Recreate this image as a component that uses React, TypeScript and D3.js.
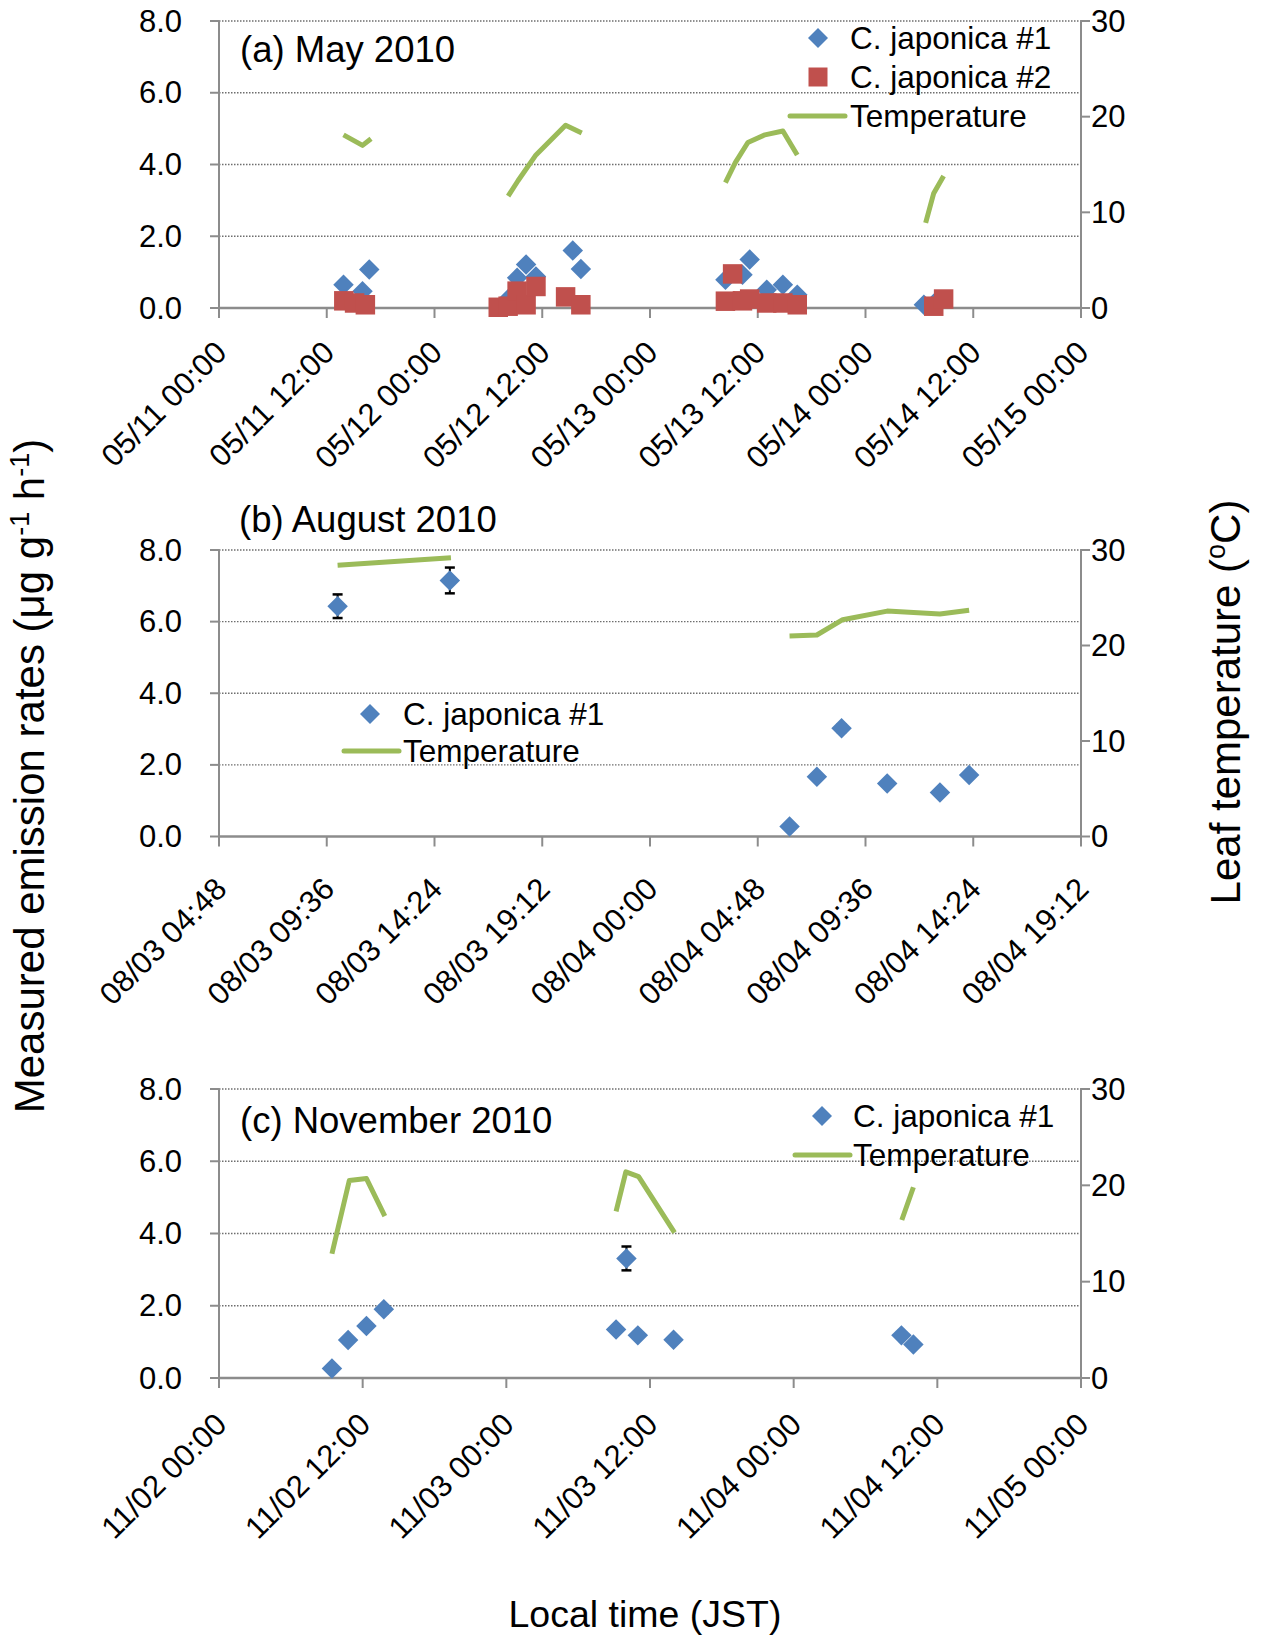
import React, { useEffect, useRef } from 'react'
import * as d3 from 'd3'

// panel (a) May 2010
const mayTicks = ['05/11 00:00', '05/11 12:00', '05/12 00:00', '05/12 12:00', '05/13 00:00', '05/13 12:00', '05/14 00:00', '05/14 12:00', '05/15 00:00']
const mayJap1Time = ['05/11 13:52', '05/11 15:59', '05/11 16:44', '05/12 08:24', '05/12 09:12', '05/12 10:12', '05/12 11:18', '05/12 15:24', '05/12 16:18', '05/13 08:24', '05/13 10:18', '05/13 11:06', '05/13 13:00', '05/13 14:48', '05/13 16:24', '05/14 06:30', '05/14 07:36']
const mayJap1Rate = [0.65, 0.47, 1.07, 0.3, 0.84, 1.21, 0.88, 1.6, 1.09, 0.79, 0.93, 1.35, 0.51, 0.65, 0.37, 0.09, 0.12]
const mayJap1Err = [0, 0, 0, 0, 0, 0, 0, 0.08, 0.04, 0, 0, 0, 0, 0, 0, 0, 0]
const mayJap2Time = ['05/11 13:54', '05/11 15:06', '05/11 16:18', '05/12 07:06', '05/12 08:12', '05/12 09:12', '05/12 10:12', '05/12 11:18', '05/12 14:36', '05/12 16:18', '05/13 08:24', '05/13 09:12', '05/13 10:18', '05/13 11:06', '05/13 13:00', '05/13 14:48', '05/13 16:24', '05/14 07:36', '05/14 08:42']
const mayJap2Rate = [0.2, 0.14, 0.09, 0.02, 0.05, 0.47, 0.09, 0.6, 0.31, 0.09, 0.19, 0.95, 0.2, 0.25, 0.14, 0.14, 0.09, 0.05, 0.25]
const mayTempTime = ['05/11 13:52', '05/11 15:59', '05/11 16:56', '', '05/12 08:12', '05/12 09:18', '05/12 11:18', '05/12 14:36', '05/12 16:24', '', '05/13 08:24', '05/13 09:30', '05/13 10:54', '05/13 12:48', '05/13 14:48', '05/13 16:24', '', '05/14 06:42', '05/14 07:36', '05/14 08:42']
const mayTemp = [18.1, 17.0, 17.7, null, 11.7, 13.3, 16.0, 19.1, 18.3, null, 13.1, 15.2, 17.3, 18.1, 18.5, 16.0, null, 8.9, 12.0, 13.8]

// panel (b) August 2010
const augTicks = ['08/03 04:48', '08/03 09:36', '08/03 14:24', '08/03 19:12', '08/04 00:00', '08/04 04:48', '08/04 09:36', '08/04 14:24', '08/04 19:12']
const augJap1Time = ['08/03 10:05', '08/03 15:05', '08/04 06:13', '08/04 07:26', '08/04 08:32', '08/04 10:34', '08/04 12:55', '08/04 14:13']
const augJap1Rate = [6.43, 7.15, 0.28, 1.67, 3.02, 1.48, 1.23, 1.72]
const augJap1Err = [0.33, 0.36, 0, 0, 0.1, 0, 0, 0]
const augTempTime = ['08/03 10:05', '08/03 15:08', '', '08/04 06:13', '08/04 07:26', '08/04 08:35', '08/04 10:34', '08/04 12:55', '08/04 14:13']
const augTemp = [28.4, 29.2, null, 21.0, 21.1, 22.7, 23.6, 23.3, 23.7]

// panel (c) November 2010
const novTicks = ['11/02 00:00', '11/02 12:00', '11/03 00:00', '11/03 12:00', '11/04 00:00', '11/04 12:00', '11/05 00:00']
const novJap1Time = ['11/02 09:26', '11/02 10:47', '11/02 12:19', '11/02 13:46', '11/03 09:10', '11/03 10:02', '11/03 10:59', '11/03 13:58', '11/04 09:00', '11/04 10:00']
const novJap1Rate = [0.26, 1.05, 1.44, 1.9, 1.34, 3.31, 1.18, 1.06, 1.18, 0.93]
const novJap1Err = [0, 0, 0.08, 0.1, 0, 0.33, 0, 0, 0, 0]
const novTempTime = ['11/02 09:26', '11/02 10:53', '11/02 12:19', '11/02 13:51', '', '11/03 09:10', '11/03 09:59', '11/03 11:03', '11/03 14:03', '', '11/04 09:02', '11/04 10:00']
const novTemp = [12.9, 20.5, 20.7, 16.8, null, 17.3, 21.4, 20.9, 15.1, null, 16.4, 19.8]

const rateTicks = [0, 2, 4, 6, 8]
const tempTicks = [0, 10, 20, 30]

const BLUE = '#4F81BD'
const RED = '#C0504D'
const GREEN = '#9BBB59'
const AXIS = '#8c8c8c'
const FONT = '"Liberation Sans", Arial, sans-serif'

const parse = d3.timeParse('%Y/%m/%d %H:%M')
const toDate = (s: string) => (s ? parse('2010/' + s) : null)

const App = () => {
  const svgRef = useRef(null)

  useEffect(() => {
    const svg = d3.select(svgRef.current)
    svg.selectAll('*').remove()

    const left = 219
    const right = 1081

    const panels = [
      {
        top: 21, bottom: 308, ticks: mayTicks, labelDy: 39, title: '(a) May 2010', titleX: 240, titleY: 62,
        s1: { t: mayJap1Time, v: mayJap1Rate, e: mayJap1Err },
        s2: { t: mayJap2Time, v: mayJap2Rate },
        temp: { t: mayTempTime, v: mayTemp },
        legend: { x: 818, y: 38, step: 39, textX: 850, lineX0: 790, lineX1: 845 },
      },
      {
        top: 550, bottom: 836.5, ticks: augTicks, labelDy: 47, title: '(b) August 2010', titleX: 239, titleY: 532,
        s1: { t: augJap1Time, v: augJap1Rate, e: augJap1Err },
        s2: null,
        temp: { t: augTempTime, v: augTemp },
        legend: { x: 370, y: 714, step: 37, textX: 403, lineX0: 344, lineX1: 399 },
      },
      {
        top: 1089, bottom: 1378, ticks: novTicks, labelDy: 41, title: '(c) November 2010', titleX: 240, titleY: 1133,
        s1: { t: novJap1Time, v: novJap1Rate, e: novJap1Err },
        s2: null,
        temp: { t: novTempTime, v: novTemp },
        legend: { x: 822, y: 1116, step: 39, textX: 853, lineX0: 795, lineX1: 850 },
      },
    ]

    panels.forEach((p) => {
      const tickDates = p.ticks.map((t) => toDate(t) as Date)
      const x = d3.scaleTime()
        .domain([tickDates[0], tickDates[tickDates.length - 1]])
        .range([left, right])
      const y = d3.scaleLinear().domain([0, 8]).range([p.bottom, p.top])
      const yT = d3.scaleLinear().domain([0, 30]).range([p.bottom, p.top])

      const g = svg.append('g')

      // grid lines
      g.selectAll('.grid')
        .data(rateTicks.filter((d) => d > 0))
        .join('line')
        .attr('x1', left).attr('x2', right)
        .attr('y1', (d) => y(d)).attr('y2', (d) => y(d))
        .attr('stroke', '#6e6e6e')
        .attr('stroke-width', 1.3)
        .attr('stroke-dasharray', '1.5,1.5')

      // axes lines
      g.append('line').attr('x1', left).attr('x2', left).attr('y1', p.top).attr('y2', p.bottom)
        .attr('stroke', AXIS).attr('stroke-width', 2)
      g.append('line').attr('x1', right).attr('x2', right).attr('y1', p.top).attr('y2', p.bottom)
        .attr('stroke', AXIS).attr('stroke-width', 2)
      g.append('line').attr('x1', left).attr('x2', right).attr('y1', p.bottom).attr('y2', p.bottom)
        .attr('stroke', AXIS).attr('stroke-width', 2.5)

      // left ticks
      g.selectAll('.lt').data(rateTicks).join('line')
        .attr('x1', left - 9).attr('x2', left)
        .attr('y1', (d) => y(d)).attr('y2', (d) => y(d))
        .attr('stroke', AXIS).attr('stroke-width', 2)
      g.selectAll('.ltl').data(rateTicks).join('text')
        .attr('x', left - 37).attr('y', (d) => y(d))
        .attr('text-anchor', 'end').attr('dominant-baseline', 'central')
        .attr('font-family', FONT).attr('font-size', 31)
        .text((d) => d3.format('.1f')(d))

      // right ticks
      g.selectAll('.rt').data(tempTicks).join('line')
        .attr('x1', right).attr('x2', right + 9)
        .attr('y1', (d) => yT(d)).attr('y2', (d) => yT(d))
        .attr('stroke', AXIS).attr('stroke-width', 2)
      g.selectAll('.rtl').data(tempTicks).join('text')
        .attr('x', right + 10).attr('y', (d) => yT(d))
        .attr('dominant-baseline', 'central')
        .attr('font-family', FONT).attr('font-size', 31)
        .text((d) => d)

      // bottom ticks
      g.selectAll('.bt').data(tickDates).join('line')
        .attr('x1', (d) => x(d)).attr('x2', (d) => x(d))
        .attr('y1', p.bottom).attr('y2', p.bottom + 10)
        .attr('stroke', AXIS).attr('stroke-width', 2)
      g.selectAll('.btl').data(p.ticks).join('text')
        .attr('transform', (d) => `translate(${x(toDate(d) as Date) + 2},${p.bottom + p.labelDy}) rotate(-45)`)
        .attr('text-anchor', 'end').attr('dominant-baseline', 'central')
        .attr('font-family', FONT).attr('font-size', 31)
        .text((d) => d)

      // title
      g.append('text').attr('x', p.titleX).attr('y', p.titleY)
        .attr('font-family', FONT).attr('font-size', 36.5)
        .text(p.title)

      // temperature
      const tempData = p.temp.t.map((t, i) => ({ d: toDate(t), v: p.temp.v[i] }))
      const line = d3.line<any>()
        .defined((d) => d.v != null && d.d != null)
        .x((d) => x(d.d))
        .y((d) => yT(d.v))
      g.append('path').datum(tempData).attr('d', line)
        .attr('fill', 'none').attr('stroke', GREEN).attr('stroke-width', 5)
        .attr('stroke-linejoin', 'round')

      // series 1 error bars
      const s1 = p.s1.t.map((t, i) => ({ d: toDate(t) as Date, v: p.s1.v[i], e: p.s1.e[i] }))
      const withErr = s1.filter((d) => d.e > 0)
      g.selectAll('.eb').data(withErr).join('line')
        .attr('x1', (d) => x(d.d)).attr('x2', (d) => x(d.d))
        .attr('y1', (d) => y(d.v - d.e)).attr('y2', (d) => y(d.v + d.e))
        .attr('stroke', '#000').attr('stroke-width', 2)
      ;[-1, 1].forEach((sgn) => {
        g.selectAll('.ec' + sgn).data(withErr).join('line')
          .attr('x1', (d) => x(d.d) - 5).attr('x2', (d) => x(d.d) + 5)
          .attr('y1', (d) => y(d.v + sgn * d.e)).attr('y2', (d) => y(d.v + sgn * d.e))
          .attr('stroke', '#000').attr('stroke-width', 2.5)
      })

      const diamond = d3.symbol().type(d3.symbolSquare).size(210)
      g.selectAll('.s1').data(s1).join('path')
        .attr('d', diamond)
        .attr('transform', (d) => `translate(${x(d.d)},${y(d.v)}) rotate(45)`)
        .attr('fill', BLUE)

      if (p.s2) {
        const s2 = p.s2.t.map((t, i) => ({ d: toDate(t) as Date, v: p.s2!.v[i] }))
        const square = d3.symbol().type(d3.symbolSquare).size(380)
        g.selectAll('.s2').data(s2).join('path')
          .attr('d', square)
          .attr('transform', (d) => `translate(${x(d.d)},${y(d.v)})`)
          .attr('fill', RED)
      }

      // legend
      const L = p.legend
      const items = p.s2 ? ['C. japonica #1', 'C. japonica #2', 'Temperature'] : ['C. japonica #1', 'Temperature']
      items.forEach((name, i) => {
        const cy = L.y + i * L.step
        if (name === 'Temperature') {
          g.append('line').attr('x1', L.lineX0).attr('x2', L.lineX1).attr('y1', cy).attr('y2', cy)
            .attr('stroke', GREEN).attr('stroke-width', 5).attr('stroke-linecap', 'round')
        } else if (name.endsWith('#2')) {
          g.append('path').attr('d', d3.symbol().type(d3.symbolSquare).size(361)())
            .attr('transform', `translate(${L.x},${cy})`).attr('fill', RED)
        } else {
          g.append('path').attr('d', d3.symbol().type(d3.symbolSquare).size(200)())
            .attr('transform', `translate(${L.x},${cy}) rotate(45)`).attr('fill', BLUE)
        }
        g.append('text').attr('x', L.textX).attr('y', cy + 11)
          .attr('font-family', FONT).attr('font-size', 31.5)
          .text(name)
      })
    })

    // axis titles
    const yt = svg.append('text')
      .attr('transform', 'translate(44,776) rotate(-90)')
      .attr('text-anchor', 'middle')
      .attr('font-family', FONT).attr('font-size', 42)
    yt.append('tspan').text('Measured emission rates (μg g')
    yt.append('tspan').attr('dy', -15).attr('font-size', 27).text('-1')
    yt.append('tspan').attr('dy', 15).text(' h')
    yt.append('tspan').attr('dy', -15).attr('font-size', 27).text('-1')
    yt.append('tspan').attr('dy', 15).text(')')

    const rt = svg.append('text')
      .attr('transform', 'translate(1240,702) rotate(-90)')
      .attr('text-anchor', 'middle')
      .attr('font-family', FONT).attr('font-size', 42)
    rt.append('tspan').text('Leaf temperature (')
    rt.append('tspan').attr('dy', -15).attr('font-size', 27).text('o')
    rt.append('tspan').attr('dy', 15).text('C)')

    svg.append('text').attr('x', 645).attr('y', 1627)
      .attr('text-anchor', 'middle')
      .attr('font-family', FONT).attr('font-size', 37.5)
      .text('Local time (JST)')
  }, [])

  return (
    <svg ref={svgRef} width={1262} height={1635}
      style={{ position: 'absolute', left: 0, top: 0, background: '#fff' }} />
  )
}

export default App
